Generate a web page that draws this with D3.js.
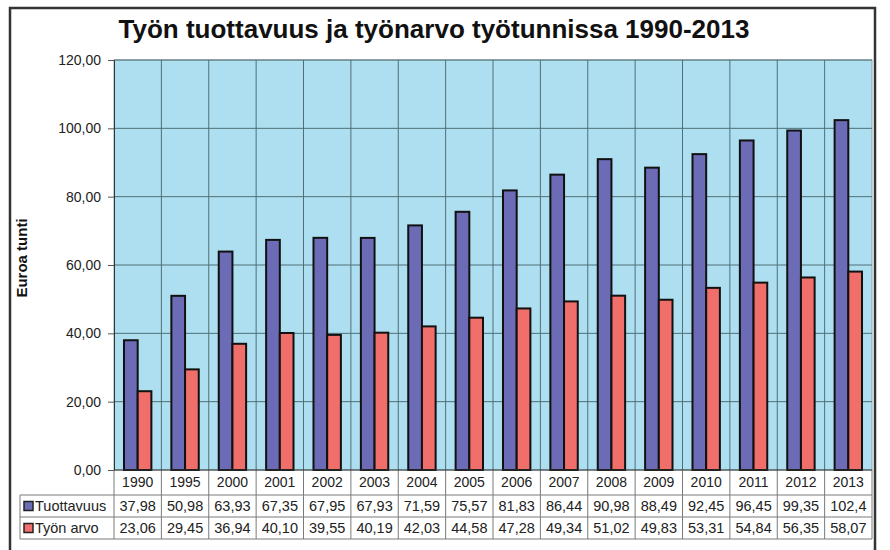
<!DOCTYPE html>
<html>
<head>
<meta charset="utf-8">
<script src="https://cdn.jsdelivr.net/npm/d3@7"></script>
<style>
  body { margin: 0; background: #fff; }
  svg text { font-family: "Liberation Sans", Arial, sans-serif; fill: #222; }
</style>
</head>
<body>
<div class="chart"></div>
<script>
var svgWidth = 890;
var svgHeight = 550;

// data
var years = ["1990", "1995", "2000", "2001", "2002", "2003", "2004", "2005",
  "2006", "2007", "2008", "2009", "2010", "2011", "2012", "2013"];
var seriesNames = ["Tuottavuus", "Työn arvo"];
var tuottavuus = [37.98, 50.98, 63.93, 67.35, 67.95, 67.93, 71.59, 75.57,
  81.83, 86.44, 90.98, 88.49, 92.45, 96.45, 99.35, 102.4];
var tyonArvo = [23.06, 29.45, 36.94, 40.10, 39.55, 40.19, 42.03, 44.58,
  47.28, 49.34, 51.02, 49.83, 53.31, 54.84, 56.35, 58.07];
var yTicks = [0, 20, 40, 60, 80, 100, 120];

var seriesColors = ["#6b6bb6", "#f06f6b"];

var plot = { left: 114, right: 872, top: 60, bottom: 470 };
var rowLines = [470, 495, 517, 539];

var fi = d3.formatLocale({ decimal: ",", thousands: " ", grouping: [3], currency: ["", ""] });
var tickFmt = fi.format(".2f");
var cellFmt = fi.format(".4r");

var svg = d3.select(".chart")
  .append("svg")
  .attr("width", svgWidth)
  .attr("height", svgHeight);

// outer frame
svg.append("rect")
  .attr("x", 10).attr("y", 8)
  .attr("width", 865).attr("height", 560)
  .attr("fill", "#fff")
  .attr("stroke", "#333")
  .attr("stroke-width", 2.5);

svg.append("text")
  .attr("x", 434).attr("y", 38)
  .attr("text-anchor", "middle")
  .attr("font-size", 26)
  .attr("font-weight", "bold")
  .style("fill", "#111")
  .text("Työn tuottavuus ja työnarvo työtunnissa 1990-2013");

var x = d3.scaleBand()
  .domain(years)
  .range([plot.left, plot.right]);

var xSub = d3.scaleBand()
  .domain(seriesNames)
  .range([0, x.bandwidth()])
  .paddingOuter(0.73);

var y = d3.scaleLinear()
  .domain([0, 120])
  .range([plot.bottom, plot.top]);

// plot background
svg.append("rect")
  .attr("x", plot.left).attr("y", plot.top)
  .attr("width", plot.right - plot.left)
  .attr("height", plot.bottom - plot.top)
  .attr("fill", "#aedff0")
  .attr("stroke", "#8aa6ad")
  .attr("stroke-width", 1);

// gridlines
svg.append("g")
  .selectAll("line")
  .data(yTicks.slice(1))
  .enter().append("line")
  .attr("x1", plot.left).attr("x2", plot.right)
  .attr("y1", d => y(d)).attr("y2", d => y(d))
  .attr("stroke", "#4f6f76")
  .attr("stroke-width", 1);

svg.append("g")
  .selectAll("line")
  .data(years.slice(1))
  .enter().append("line")
  .attr("x1", d => x(d)).attr("x2", d => x(d))
  .attr("y1", plot.top).attr("y2", plot.bottom)
  .attr("stroke", "#4f6f76")
  .attr("stroke-width", 1);

// y axis
var leftAxis = d3.axisLeft(y)
  .tickValues(yTicks)
  .tickFormat(tickFmt)
  .tickSize(6)
  .tickPadding(7);

var yAxis = svg.append("g")
  .attr("transform", `translate(${plot.left}, 0)`)
  .call(leftAxis);
yAxis.select(".domain").attr("stroke", "#333");
yAxis.selectAll(".tick line").attr("stroke", "#555");
yAxis.selectAll("text")
  .attr("font-size", 14)
  .style("fill", "#222");

svg.append("text")
  .attr("transform", "translate(27, 258) rotate(-90)")
  .attr("text-anchor", "middle")
  .attr("font-size", 15)
  .attr("font-weight", "bold")
  .style("fill", "#111")
  .text("Euroa tunti");

// bars
var seriesData = [tuottavuus, tyonArvo];
seriesData.forEach(function (vals, s) {
  svg.append("g")
    .selectAll("rect")
    .data(vals)
    .enter().append("rect")
    .attr("x", (d, i) => x(years[i]) + xSub(seriesNames[s]))
    .attr("y", d => y(d))
    .attr("width", xSub.bandwidth())
    .attr("height", d => y(0) - y(d))
    .attr("fill", seriesColors[s])
    .attr("stroke", "#111")
    .attr("stroke-width", 2);
});

// data table
var table = svg.append("g");
var lineColor = "#7a7a7a";

table.selectAll(".hline")
  .data(rowLines.slice(1))
  .enter().append("line")
  .attr("x1", 20).attr("x2", plot.right)
  .attr("y1", d => d).attr("y2", d => d)
  .attr("stroke", lineColor);

table.selectAll(".vline")
  .data(years.concat(["end"]))
  .enter().append("line")
  .attr("x1", d => d === "end" ? plot.right : x(d))
  .attr("x2", d => d === "end" ? plot.right : x(d))
  .attr("y1", rowLines[0]).attr("y2", rowLines[3])
  .attr("stroke", lineColor);

table.append("line")
  .attr("x1", 20).attr("x2", 20)
  .attr("y1", rowLines[1]).attr("y2", rowLines[3])
  .attr("stroke", lineColor);

// x axis line over the table top
svg.append("line")
  .attr("x1", plot.left).attr("x2", plot.right)
  .attr("y1", plot.bottom).attr("y2", plot.bottom)
  .attr("stroke", "#333");

table.selectAll(".year")
  .data(years)
  .enter().append("text")
  .attr("x", d => x(d) + x.bandwidth() / 2)
  .attr("y", (rowLines[0] + rowLines[1]) / 2)
  .attr("dy", "0.35em")
  .attr("text-anchor", "middle")
  .attr("font-size", 14)
  .text(d => d);

seriesData.forEach(function (vals, s) {
  var cy = (rowLines[s + 1] + rowLines[s + 2]) / 2;
  var row = table.append("g");

  row.append("rect")
    .attr("x", 24).attr("y", cy - 4.5)
    .attr("width", 9).attr("height", 9)
    .attr("fill", seriesColors[s])
    .attr("stroke", "#222")
    .attr("stroke-width", 1.5);

  row.append("text")
    .attr("x", 35).attr("y", cy)
    .attr("dy", "0.35em")
    .attr("font-size", 14.5)
    .text(seriesNames[s]);

  row.selectAll(".val")
    .data(vals)
    .enter().append("text")
    .attr("x", (d, i) => x(years[i]) + x.bandwidth() / 2)
    .attr("y", cy)
    .attr("dy", "0.35em")
    .attr("text-anchor", "middle")
    .attr("font-size", 14.5)
    .text(d => cellFmt(d));
});
</script>
</body>
</html>
